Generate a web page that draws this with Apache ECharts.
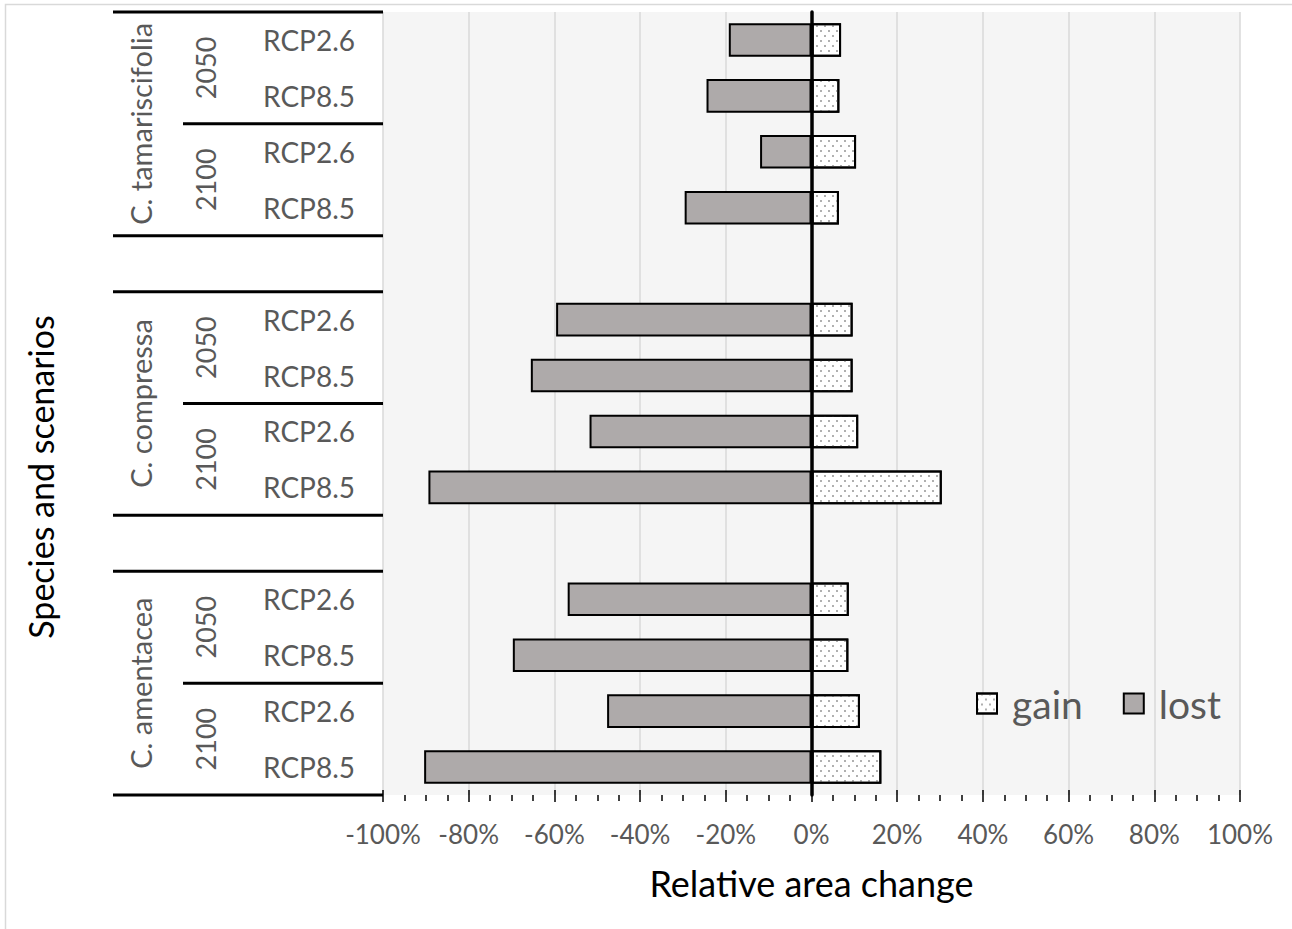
<!DOCTYPE html>
<html><head><meta charset="utf-8">
<script src="https://cdn.jsdelivr.net/npm/echarts@6/dist/echarts.min.js"></script>
<style>html,body{margin:0;padding:0;background:#fff}#c{width:1292px;height:929px}</style>
</head><body><div id="c"></div>
<script>
// ---- data ----
const species = ['C. tamariscifolia', 'C. compressa', 'C. amentacea'];
const years = ['2050', '2100'];
const scenarios = ['RCP2.6', 'RCP8.5'];
// order within each species: 2050 RCP2.6, 2050 RCP8.5, 2100 RCP2.6, 2100 RCP8.5
const lostTamariscifolia = [-19.3, -24.5, -12.0, -29.6];
const gainTamariscifolia = [6.9, 6.5, 10.4, 6.4];
const lostCompressa = [-59.6, -65.5, -51.8, -89.4];
const gainCompressa = [9.6, 9.6, 10.9, 30.4];
const lostAmentacea = [-56.9, -69.7, -47.7, -90.4];
const gainAmentacea = [8.7, 8.6, 11.3, 16.3];
const xMin = -100, xMax = 100, xStep = 20;
const legendNames = ['gain', 'lost'];

// ---- build rows ----
const lostBySpecies = [lostTamariscifolia, lostCompressa, lostAmentacea];
const gainBySpecies = [gainTamariscifolia, gainCompressa, gainAmentacea];
const rows = [], lostData = [], gainData = [], groups = [];
species.forEach((sp, si) => {
  const spStart = rows.length;
  let k = 0;
  years.forEach((yr, yi) => {
    const yStart = rows.length;
    scenarios.forEach(sc => {
      rows.push(sp + '|' + yr + '|' + sc);
      lostData.push(lostBySpecies[si][k]);
      gainData.push(gainBySpecies[si][k]);
      k++;
    });
    groups.push({kind: 'year', text: yr, start: yStart, end: rows.length - 1, first: yi === 0});
  });
  groups.push({kind: 'species', text: sp, start: spStart, end: rows.length - 1});
  if (si < species.length - 1) { rows.push('gap' + si); lostData.push('-'); gainData.push('-'); }
});

const FONT = 'Lato, "Open Sans", sans-serif';
const GRAY = '#595959';

const chart = echarts.init(document.getElementById('c'), null, {renderer: 'svg'});
chart.setOption({
  animation: false,
  textStyle: {fontFamily: FONT},
  graphic: [
    {type: 'rect', shape: {x: 5.5, y: 4.5, width: 1400, height: 1000}, style: {fill: 'none', stroke: '#d9d9d9', lineWidth: 1.5}, silent: true},
    {type: 'text', x: 40, y: 477, rotation: Math.PI / 2,
     style: {text: 'Species and scenarios', fontSize: 34, fontFamily: FONT, fill: '#000', align: 'center', verticalAlign: 'middle'}}
  ],
  grid: {left: 383, right: 52, top: 12, bottom: 134, show: true, backgroundColor: '#f5f5f5', borderWidth: 0},
  legend: {
    data: legendNames, left: 971, top: 679, itemWidth: 20, itemHeight: 20, itemGap: 40, icon: 'rect',
    textStyle: {fontSize: 39, color: GRAY, fontFamily: FONT, padding: [0, 0, 0, 10]}
  },
  xAxis: [{
    type: 'value', min: xMin, max: xMax, interval: xStep,
    axisLine: {onZero: false, lineStyle: {color: '#000', width: 1.5}},
    axisTick: {show: true, length: 7, lineStyle: {color: '#000', width: 1.5}},
    minorTick: {show: true, splitNumber: 4, length: 6, lineStyle: {color: '#000', width: 1.5}},
    splitLine: {show: true, lineStyle: {color: '#d9d9d9', width: 1.5}},
    axisLabel: {formatter: '{value}%', fontSize: 26, color: GRAY, margin: 26, fontFamily: FONT},
    name: 'Relative area change', nameLocation: 'middle', nameGap: 70,
    nameTextStyle: {fontSize: 36, color: '#000', fontFamily: FONT}
  }, {
    type: 'value', min: xMin, max: xMax, interval: xStep, position: 'bottom', offset: 0,
    axisLine: {show: false, onZero: false},
    axisTick: {show: true, inside: true, length: 5, lineStyle: {color: '#000', width: 1.5}},
    axisLabel: {show: false}, splitLine: {show: false}
  }],
  yAxis: [{
    type: 'category', data: rows, inverse: true,
    axisLine: {show: false, onZero: false}, axisTick: {show: false},
    axisLabel: {interval: 0, margin: 28, fontSize: 28, color: GRAY, fontFamily: FONT,
      formatter: v => v.startsWith('gap') ? '' : v.split('|')[2]}
  }, {
    type: 'category', data: rows, inverse: true, z: 6,
    axisLine: {show: true, onZero: true, onZeroAxisIndex: 0, lineStyle: {color: '#000', width: 3.5}},
    axisTick: {show: false}, axisLabel: {show: false}, splitLine: {show: false}
  }],
  series: [{
    name: 'gain', type: 'bar', data: gainData, barWidth: '60%', barGap: '-100%',
    itemStyle: {color: '#fff', borderColor: '#000', borderWidth: 2,
      decal: {symbol: 'rect', symbolSize: 0.8, color: '#7a7a7a', dashArrayX: [[2, 6], [0, 4, 2, 2]], dashArrayY: [2, 2.2]}}
  }, {
    name: 'lost', type: 'bar', data: lostData, barWidth: '60%', barGap: '-100%',
    itemStyle: {color: '#aeaaaa', borderColor: '#000', borderWidth: 2}
  }, {
    type: 'custom', clip: false, silent: true,
    encode: {x: 0, y: 1},
    data: groups.map(g => [0, g.start]),
    renderItem: (params, api) => {
      const g = groups[params.dataIndex];
      const cs = params.coordSys;
      const band = api.size([0, 1])[1];
      const top = api.coord([0, g.start])[1] - band / 2;
      const bottom = api.coord([0, g.end])[1] + band / 2;
      const mid = (top + bottom) / 2;
      const ch = [];
      const line = (y, x1) => ({type: 'line', shape: {x1: x1, y1: y, x2: cs.x, y2: y}, style: {stroke: '#000', lineWidth: 3}});
      const txt = (x, t, fs) => ({type: 'text', x: x, y: mid, rotation: Math.PI / 2,
        style: {text: t, fontSize: fs, fontFamily: FONT, fill: GRAY, align: 'center', verticalAlign: 'middle'}});
      if (g.kind === 'species') {
        ch.push(line(top, cs.x - 270), line(bottom, cs.x - 270), txt(cs.x - 243, g.text, 29));
      } else {
        if (!g.first) ch.push(line(top, cs.x - 200));
        ch.push(txt(cs.x - 178, g.text, 27));
      }
      return {type: 'group', children: ch};
    }
  }]
});
</script>
</body></html>
